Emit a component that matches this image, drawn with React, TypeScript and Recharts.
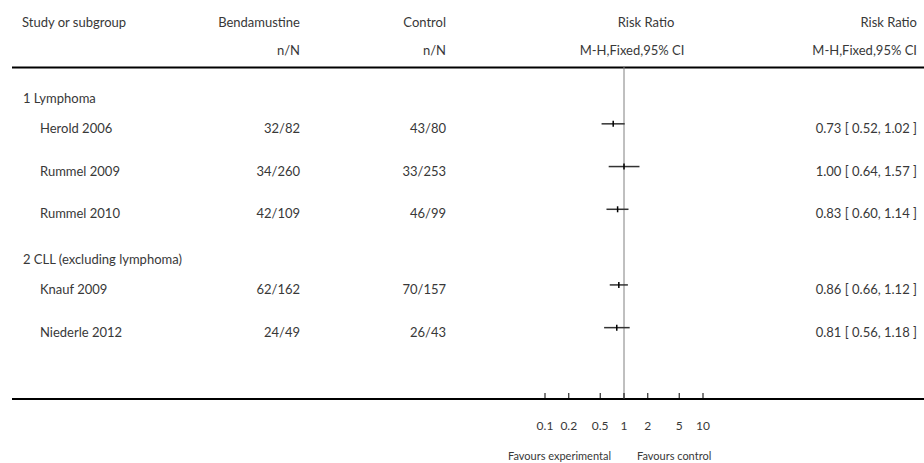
import { ErrorBar, ReferenceLine, Scatter, ScatterChart, XAxis, YAxis } from "recharts"

// forest plot data
const groups = ["1 Lymphoma", "2 CLL (excluding lymphoma)"]
const studies = ["Herold 2006", "Rummel 2009", "Rummel 2010", "Knauf 2009", "Niederle 2012"]
const studyGroup = [0, 0, 0, 1, 1]
const bendaEvents = [32, 34, 42, 62, 24]
const bendaTotal = [82, 260, 109, 162, 49]
const ctrlEvents = [43, 33, 46, 70, 26]
const ctrlTotal = [80, 253, 99, 157, 43]
const riskRatio = [0.73, 1.0, 0.83, 0.86, 0.81]
const ciLow = [0.52, 0.64, 0.6, 0.66, 0.56]
const ciHigh = [1.02, 1.57, 1.14, 1.12, 1.18]
const axisTicks = [0.1, 0.2, 0.5, 1, 2, 5, 10]

const FONT = "Lato, 'Open Sans', sans-serif"
const TEXT = "#383838"

// row spacing in row units
const TOP_PAD = 0.63
const HEADER_GAP = 0.7
const GROUP_GAP = 1.07
const BOTTOM_PAD = 1.67

interface Row {
  kind: "group" | "study"
  pos: number
  label: string
  i: number
}

const rows: Row[] = []
let pos = TOP_PAD
groups.forEach((g, gi) => {
  if (gi > 0) pos += GROUP_GAP
  rows.push({ kind: "group", pos, label: g, i: -1 })
  pos += HEADER_GAP
  const members = studies.map((_, i) => i).filter((i) => studyGroup[i] === gi)
  members.forEach((i, k) => {
    if (k > 0) pos += 1
    rows.push({ kind: "study", pos, label: studies[i], i })
  })
})
const yMax = pos + BOTTOM_PAD

const points = rows
  .filter((r) => r.kind === "study")
  .map((r) => ({
    x: riskRatio[r.i],
    y: r.pos,
    err: [riskRatio[r.i] - ciLow[r.i], ciHigh[r.i] - riskRatio[r.i]],
  }))

const fmt = (v: number) => v.toFixed(2)

function RowTick(props: any) {
  const { y, payload } = props
  const row = rows.find((r) => Math.abs(r.pos - payload.value) < 1e-6)
  if (!row) return null
  const ty = y + 4
  const common = { fontFamily: FONT, fontSize: 13, fill: TEXT, dominantBaseline: "central" as const }
  if (row.kind === "group") {
    return (
      <text x={23} y={ty} {...common}>
        {row.label}
      </text>
    )
  }
  const i = row.i
  return (
    <g>
      <text x={40} y={ty} {...common}>
        {row.label}
      </text>
      <text x={300} y={ty} textAnchor="end" {...common}>
        {`${bendaEvents[i]}/${bendaTotal[i]}`}
      </text>
      <text x={446} y={ty} textAnchor="end" {...common}>
        {`${ctrlEvents[i]}/${ctrlTotal[i]}`}
      </text>
      <text x={917} y={ty} textAnchor="end" {...common}>
        {`${fmt(riskRatio[i])} [ ${fmt(ciLow[i])}, ${fmt(ciHigh[i])} ]`}
      </text>
    </g>
  )
}

function ScaleTick(props: any) {
  const { x, y, payload } = props
  const common = { fontFamily: FONT, fontSize: 12, fill: TEXT, dominantBaseline: "central" as const }
  return (
    <g>
      <line x1={x} x2={x} y1={y - 8} y2={y - 14} stroke="#000" strokeWidth={1} />
      <text x={x} y={y + 18} textAnchor="middle" {...common}>
        {payload.value}
      </text>
      {payload.value === 1 && (
        <>
          <text x={x - 13} y={y + 48} textAnchor="end" {...common} fontSize={11}>
            Favours experimental
          </text>
          <text x={x + 13} y={y + 48} textAnchor="start" {...common} fontSize={11}>
            Favours control
          </text>
        </>
      )}
    </g>
  )
}

function Marker(props: any) {
  const { cx, cy } = props
  return <line x1={cx} x2={cx} y1={cy - 3} y2={cy + 3} stroke="#000" strokeWidth={1.5} />
}

export default function App() {
  const head = { fontFamily: FONT, fontSize: 13, fill: TEXT, dominantBaseline: "central" as const }
  return (
    <div style={{ position: "absolute", left: 0, top: 0, background: "#fff" }}>
      <ScatterChart width={924} height={463} margin={{ top: 67, right: 221, bottom: 4, left: 535 }}>
        <XAxis
          type="number"
          dataKey="x"
          scale="log"
          domain={[0.1, 10]}
          ticks={axisTicks}
          interval={0}
          allowDataOverflow
          axisLine={false}
          tickLine={false}
          tickSize={6}
          tickMargin={2}
          height={60}
          tick={<ScaleTick />}
        />
        <YAxis
          type="number"
          dataKey="y"
          domain={[0, yMax]}
          reversed
          ticks={rows.map((r) => r.pos)}
          interval={0}
          allowDecimals
          width={10}
          axisLine={false}
          tickLine={false}
          tick={<RowTick />}
        />
        <ReferenceLine x={1} stroke="#808080" strokeWidth={1} />
        <Scatter data={points} shape={<Marker />} isAnimationActive={false}>
          <ErrorBar dataKey="err" direction="x" width={0} stroke="#333" strokeWidth={1.5} isAnimationActive={false} />
        </Scatter>

        <text x={22} y={22} {...head}>Study or subgroup</text>
        <text x={300} y={22} textAnchor="end" {...head}>Bendamustine</text>
        <text x={300} y={50} textAnchor="end" {...head}>n/N</text>
        <text x={446} y={22} textAnchor="end" {...head}>Control</text>
        <text x={446} y={50} textAnchor="end" {...head}>n/N</text>
        <text x={646} y={22} textAnchor="middle" {...head}>Risk Ratio</text>
        <text x={632} y={50} textAnchor="middle" {...head}>M-H,Fixed,95% CI</text>
        <text x={917} y={22} textAnchor="end" {...head}>Risk Ratio</text>
        <text x={917} y={50} textAnchor="end" {...head}>M-H,Fixed,95% CI</text>
        <line x1={12} x2={924} y1={67.5} y2={67.5} stroke="#000" strokeWidth={2} />
        <line x1={12} x2={924} y1={399} y2={399} stroke="#000" strokeWidth={2} />
      </ScatterChart>
    </div>
  )
}
